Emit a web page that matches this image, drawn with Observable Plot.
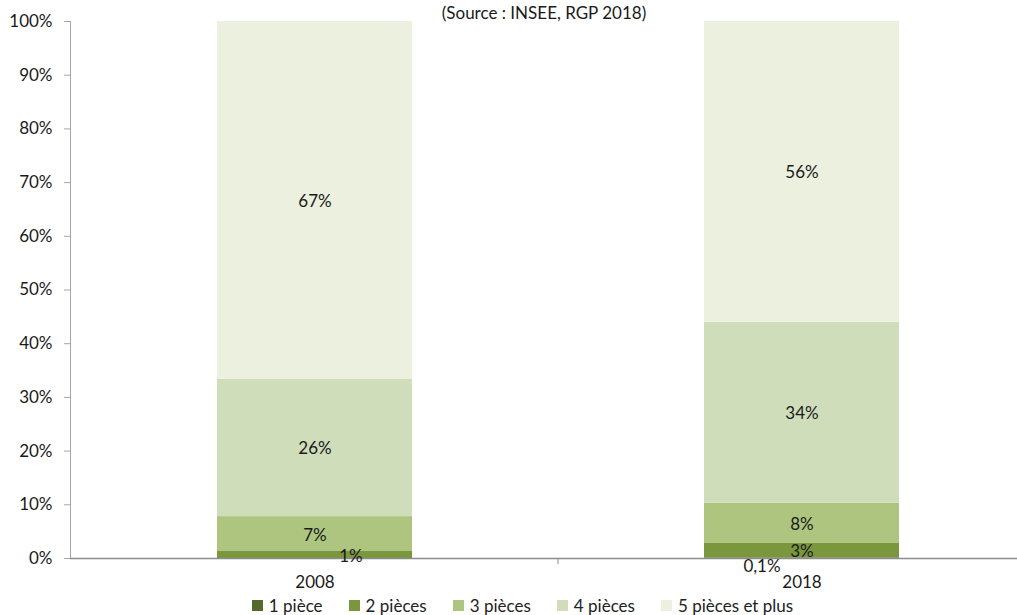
<!DOCTYPE html>
<html>
<head>
<meta charset="utf-8">
<script src="https://cdn.jsdelivr.net/npm/d3@7"></script>
<script src="https://cdn.jsdelivr.net/npm/@observablehq/plot@0.6"></script>
<style>
  html, body { margin: 0; padding: 0; background: #fff; overflow: hidden; }
  body { width: 1017px; height: 615px; font-family: Lato, "Open Sans", sans-serif; }
  #legend { position: absolute; top: 595px; left: 0; width: 1017px; display: flex; justify-content: center; font-size: 17px; color: #222; padding-left: 54px; box-sizing: border-box; }
  .item { display: flex; align-items: center; margin: 0 26px 0 0; }
  .sw { width: 11px; height: 11px; margin-right: 6px; }
</style>
</head>
<body>
<div id="chart"></div>
<div id="legend"></div>
<script>
const years = ["2008", "2018"];
const categories = ["1 pièce", "2 pièces", "3 pièces", "4 pièces", "5 pièces et plus"];
const values2008 = [0, 1.3, 6.5, 25.6, 66.6];
const values2018 = [0.1, 2.7, 7.5, 33.7, 56.0];
const colors = ["#56692c", "#7a973d", "#adc57f", "#cfddbb", "#ebf0df"];
const yTicks = [0, 10, 20, 30, 40, 50, 60, 70, 80, 90, 100];
const title = "(Source : INSEE, RGP 2018)";

const data = [];
years.forEach((yr, j) => {
  const vals = j === 0 ? values2008 : values2018;
  categories.forEach((c, i) => data.push({year: yr, cat: c, value: vals[i]}));
});

const fmt = v => v === 0 ? "" : (v < 1 ? v.toFixed(1).replace(".", ",") + "%" : Math.round(v) + "%");
// labels displaced in the original (overlapping tiny segments)
const special = {"2008|2 pièces": [36, 2], "2018|1 pièce": [-40, 8]};
const key = d => d.year + "|" + d.cat;

const separator = (index, scales, values, dims) => {
  const g = d3.create("svg:g");
  const x = scales.x, y = scales.y;
  const step = x.step ? x.step() : (x(years[1]) - x(years[0]));
  const y0 = y(0);
  g.append("line").attr("x1", dims.marginLeft + 0.5).attr("x2", dims.marginLeft + 0.5)
    .attr("y1", y(100)).attr("y2", y0).attr("stroke", "#a6a6a6");
  g.append("line").attr("x1", dims.marginLeft).attr("x2", dims.width)
    .attr("y1", y0 + 0.5).attr("y2", y0 + 0.5).attr("stroke", "#8c8c8c").attr("stroke-width", 1.3);
  const xs = x(years[0]) + x.bandwidth() + (step - x.bandwidth()) / 2;
  g.append("line").attr("x1", xs).attr("x2", xs).attr("y1", y0).attr("y2", y0 + 6).attr("stroke", "#8c8c8c");
  return g.node();
};

const textStyle = {fontSize: 17, fill: "#1a1a1a", stroke: null};

const chart = Plot.plot({
  width: 1017,
  height: 595,
  marginLeft: 70,
  marginRight: 0,
  marginTop: 21,
  marginBottom: 37,
  style: {fontFamily: "Lato, 'Open Sans', sans-serif", fontSize: "17px", color: "#1a1a1a", background: "#fff"},
  x: {domain: years, range: [70.5, 1044.5], paddingInner: 0.6, paddingOuter: 0.3, label: null},
  y: {domain: [0, 100], label: null},
  color: {domain: categories, range: colors},
  marks: [
    Plot.barY(data, Plot.stackY({x: "year", y: "value", fill: "cat", order: categories})),
    Plot.axisY({ticks: yTicks, tickFormat: d => d + "%", tickSize: 6, tickPadding: 12, stroke: "#a6a6a6", fontSize: 17, label: null}),
    Plot.axisX({tickSize: 0, tickPadding: 17, fontSize: 17, label: null}),
    separator,
    Plot.text(data, Plot.stackY({x: "year", y: "value", z: "cat", order: categories,
      text: d => special[key(d)] ? "" : fmt(d.value), dy: 1, ...textStyle})),
    Plot.text(data, Plot.stackY({x: "year", y: "value", z: "cat", order: categories,
      text: d => key(d) === "2008|2 pièces" ? fmt(d.value) : "", dx: 36, dy: 2, ...textStyle})),
    Plot.text(data, Plot.stackY({x: "year", y: "value", z: "cat", order: categories,
      text: d => key(d) === "2018|1 pièce" ? fmt(d.value) : "", dx: -40, dy: 8, ...textStyle})),
    Plot.text([title], {text: d => d, frameAnchor: "top", dy: -15, ...textStyle})
  ]
});
document.getElementById("chart").appendChild(chart);

const legend = document.getElementById("legend");
categories.forEach((c, i) => {
  const it = document.createElement("div");
  it.className = "item";
  const sw = document.createElement("div");
  sw.className = "sw";
  sw.style.background = colors[i];
  it.appendChild(sw);
  it.appendChild(document.createTextNode(c));
  legend.appendChild(it);
});
</script>
</body>
</html>
